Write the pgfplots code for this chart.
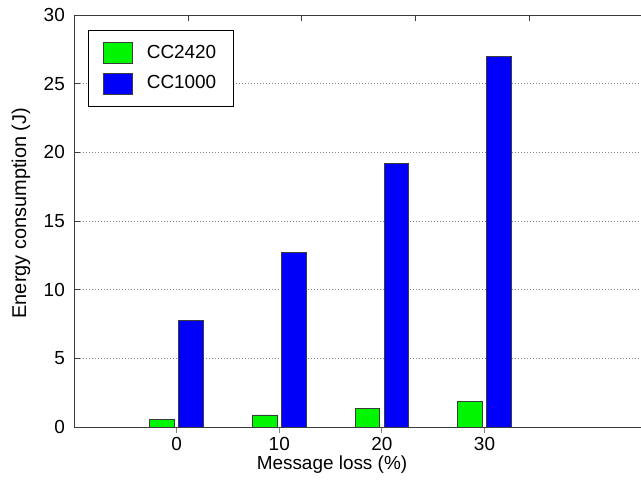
\documentclass[border=0pt]{standalone}
\usepackage{fontspec}
\setmainfont{Liberation Sans}
\usepackage{pgfplots}
\pgfplotsset{compat=1.18}
\definecolor{ccgreen}{RGB}{0,245,0}
\definecolor{ccblue}{RGB}{0,0,250}
\definecolor{axgray}{RGB}{60,60,60}
\begin{document}
\begin{tikzpicture}
\begin{axis}[
  at={(74bp,55bp)}, anchor=south west,
  scale only axis,
  width=585bp, height=412bp,
  xmin=-10, xmax=47, ymin=0, ymax=30,
  xtick={0,10,20,30}, ytick={0,5,10,15,20,25,30},
  xtick pos=left, ytick pos=left,
  tick align=inside,
  major tick length=6bp,
  x tick style={gray, line width=0.8bp},
  y tick style={axgray, line width=0.8bp},
  axis line style={axgray, line width=0.9bp},
  ymajorgrids,
  major grid style={gray, line width=0.8bp, dash pattern=on 1bp off 2bp},
  /pgf/number format/assume math mode=true,
  tick label style={font=\fontsize{19}{22}\selectfont},
  xticklabel style={anchor=base, inner sep=0pt, yshift=-17bp},
  yticklabel style={anchor=east, inner sep=0pt, xshift=-9bp},
  label style={font=\fontsize{19}{22}\selectfont},
  xlabel={Message loss (\%)},
  xlabel style={at={(axis description cs:0.441,0)}, anchor=base, inner sep=0pt, yshift=-42bp},
  ylabel={Energy consumption (J)},
  ylabel style={font=\fontsize{20}{22}\selectfont, at={(axis description cs:-0.082,0.519)}, anchor=base, inner sep=0pt, rotate=0},
  ybar,
  bar width=24.5bp,
  legend style={font=\fontsize{19}{22}\selectfont, draw=black, line width=0.8bp,
    at={(0.024,0.964)}, anchor=north west, inner xsep=15bp, inner ysep=12bp,
    row sep=9bp,
    nodes={inner sep=2bp, text height=13.5bp, text depth=3.5bp}},
  legend cell align=left,
  legend image code/.code={\draw[#1, line width=0.8bp] (0bp,-10.5bp) rectangle (29bp,10.5bp);
     \path[draw=none, fill=none] (29bp,0bp) -- (41bp,0bp);},
]
\addplot[fill=ccgreen, draw=axgray, line width=0.8bp, bar shift=-14.5bp]
  coordinates {(0,0.58) (10,0.88) (20,1.33) (30,1.86)};
\addplot[fill=ccblue, draw=axgray, line width=0.8bp, bar shift=14.5bp]
  coordinates {(0,7.74) (10,12.72) (20,19.17) (30,26.97)};
\legend{CC2420\hspace{6bp}, CC1000\hspace{6bp}}
\end{axis}
\begin{axis}[
  at={(74bp,55bp)}, anchor=south west,
  scale only axis,
  width=585bp, height=412bp,
  xmin=-10, xmax=47, ymin=0, ymax=30,
  xtick={1.1,12.2,23.3,34.4}, xticklabels={},
  xtick pos=right, tick align=inside,
  major tick length=6bp,
  x tick style={axgray, line width=0.8bp},
  hide y axis, axis x line*=top,
  axis line style={draw=none},
]
\addplot[draw=none] coordinates {(0,0)};
\end{axis}
\pgfresetboundingbox
\useasboundingbox (0,0) rectangle (641bp,482bp);
\end{tikzpicture}
\end{document}
